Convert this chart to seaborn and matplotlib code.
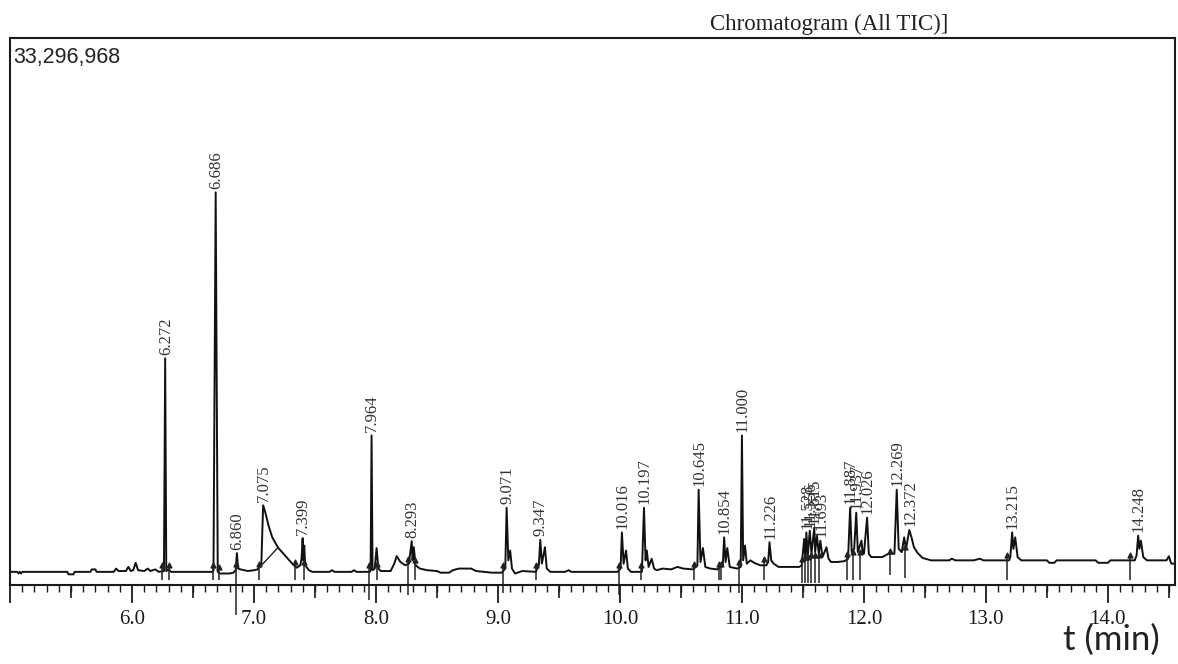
import matplotlib
matplotlib.use("Agg")
import matplotlib.pyplot as plt
from matplotlib.ticker import MultipleLocator, FixedLocator, FixedFormatter
import seaborn as sns

# ---------------- data (time in min, intensity in millions of counts) ----------------
trace_t = [5.00, 5.06, 5.07, 5.08, 5.09, 5.10, 5.47, 5.48, 5.52, 5.53, 5.66, 5.67, 5.70, 5.71,
           5.85, 5.87, 5.89, 5.95, 5.97, 5.99, 6.01, 6.03, 6.05, 6.10, 6.13, 6.15, 6.19, 6.22,
           6.262, 6.272, 6.281, 6.30, 6.32,
           6.66, 6.668, 6.686, 6.703, 6.72, 6.80, 6.83, 6.85, 6.860, 6.87, 6.89, 6.95, 7.00, 7.03,
           7.06, 7.075, 7.09, 7.12, 7.15, 7.18, 7.20, 7.23, 7.26, 7.29, 7.32, 7.35, 7.38, 7.390,
           7.399, 7.405, 7.412, 7.42, 7.45, 7.48, 7.62, 7.64, 7.66, 7.80, 7.82, 7.84,
           7.95, 7.956, 7.964, 7.972, 7.99, 8.005, 8.02, 8.04, 8.12, 8.15, 8.17, 8.20, 8.24, 8.27,
           8.293, 8.30, 8.31, 8.325, 8.36, 8.42, 8.50, 8.53, 8.60, 8.63, 8.68, 8.78, 8.82, 8.95,
           9.03, 9.06, 9.071, 9.085, 9.10, 9.115, 9.14, 9.20, 9.31, 9.335, 9.347, 9.36, 9.385,
           9.40, 9.43, 9.55, 9.58, 9.60, 9.98, 10.005, 10.016, 10.03, 10.05, 10.065, 10.09,
           10.18, 10.197, 10.21, 10.22, 10.235, 10.26, 10.28, 10.30, 10.35, 10.42, 10.47, 10.52,
           10.60, 10.635, 10.645, 10.66, 10.68, 10.70, 10.74, 10.80, 10.843, 10.854, 10.866,
           10.88, 10.90, 10.96, 10.99, 11.000, 11.01, 11.025, 11.04, 11.07, 11.10, 11.15, 11.20,
           11.215, 11.226, 11.24, 11.26, 11.30, 11.40, 11.47,
           11.49, 11.51, 11.52, 11.528, 11.54, 11.556, 11.57, 11.593, 11.60, 11.615, 11.63,
           11.643, 11.66, 11.693, 11.71, 11.73, 11.78, 11.84, 11.87, 11.887, 11.90, 11.92,
           11.937, 11.95, 11.98, 11.99, 12.00, 12.026, 12.04, 12.06, 12.10, 12.15, 12.20, 12.25,
           12.269, 12.285, 12.31, 12.33, 12.345, 12.372, 12.39, 12.41, 12.44, 12.48, 12.55,
           12.70, 12.72, 12.75, 12.90, 12.95, 12.98, 13.19, 13.20, 13.215, 13.225, 13.24, 13.26,
           13.29, 13.50, 13.52, 13.56, 13.58, 13.90, 13.92, 14.00, 14.02, 14.22, 14.235, 14.248,
           14.258, 14.27, 14.29, 14.32, 14.48, 14.50, 14.51, 14.52, 14.55]
trace_i = [0.80, 0.80, 0.70, 0.80, 0.70, 0.80, 0.80, 0.65, 0.65, 0.80, 0.80, 0.95, 0.95, 0.80,
           0.80, 1.00, 0.85, 0.85, 1.10, 0.85, 0.90, 1.35, 0.90, 0.85, 1.00, 0.85, 0.95, 0.80,
           0.85, 13.80, 0.85, 0.95, 0.80,
           0.80, 0.90, 23.90, 0.80, 0.70, 0.70, 0.75, 0.90, 1.94, 1.00, 0.95, 0.85, 0.90, 0.95,
           1.20, 4.85, 4.50, 3.60, 2.90, 2.50, 2.25, 2.00, 1.75, 1.50, 1.25, 1.05, 1.20, 1.60,
           2.85, 1.50, 2.40, 1.20, 0.90, 0.80, 0.80, 0.90, 0.80, 0.80, 0.90, 0.80,
           0.80, 0.90, 9.10, 0.90, 1.00, 2.25, 1.00, 0.85, 0.85, 1.30, 1.76, 1.40, 1.20, 1.30,
           2.67, 1.50, 2.30, 1.20, 1.00, 0.90, 0.85, 0.75, 0.75, 0.90, 1.00, 1.00, 0.85, 0.75,
           0.75, 1.00, 4.70, 1.50, 2.10, 1.00, 0.70, 0.85, 0.80, 1.20, 2.75, 1.30, 2.30,
           1.00, 0.80, 0.80, 0.90, 0.80, 0.80, 1.00, 3.20, 1.30, 2.10, 1.00, 0.80,
           0.80, 4.70, 1.50, 2.10, 1.10, 1.60, 1.00, 0.90, 1.00, 0.95, 1.10, 1.00,
           0.95, 1.20, 5.80, 1.40, 2.25, 1.10, 1.00, 0.95, 1.20, 2.90, 1.40,
           2.25, 1.10, 1.00, 1.10, 9.10, 1.50, 2.40, 1.30, 1.50, 1.35, 1.20, 1.20,
           1.40, 2.60, 1.50, 1.30, 1.10, 1.10, 1.10,
           1.20, 2.80, 1.50, 3.20, 1.80, 3.30, 1.90, 3.50, 2.00, 3.00, 1.90,
           2.70, 1.70, 2.30, 1.60, 1.40, 1.40, 1.45, 1.60, 4.70, 2.00, 2.20,
           4.40, 2.00, 2.70, 1.90, 1.90, 4.10, 1.90, 1.70, 1.70, 1.70, 1.90, 1.90,
           5.80, 2.20, 2.00, 2.90, 2.20, 3.35, 2.90, 2.30, 1.95, 1.65, 1.50,
           1.50, 1.60, 1.50, 1.50, 1.60, 1.50, 1.50, 1.70, 3.20, 2.20, 2.90, 1.70,
           1.50, 1.50, 1.35, 1.35, 1.50, 1.50, 1.35, 1.35, 1.50, 1.50, 1.80, 3.00,
           2.20, 2.70, 1.70, 1.50, 1.50, 1.75, 1.50, 1.30, 1.30]

peak_t = [6.272, 6.686, 6.860, 7.075, 7.399, 7.964, 8.293, 9.071, 9.347, 10.016, 10.197,
          10.645, 10.854, 11.000, 11.226, 11.528, 11.556, 11.593, 11.643, 11.887, 11.937,
          12.026, 12.269, 12.372, 13.215, 14.248]
peak_lbl = ["6.272", "6.686", "6.860", "7.075", "7.399", "7.964", "8.293", "9.071", "9.347",
            "10.016", "10.197", "10.645", "10.854", "11.000", "11.226", "11.528", "11.556",
            "11.615", "11.693", "11.887", "11.937", "12.026", "12.269", "12.372", "13.215",
            "14.248"]

# integration markers (time, top, bottom)
mark_t = [6.25, 6.30, 6.66, 6.71, 6.855, 7.04, 7.34, 7.41, 7.94, 8.01, 8.26, 8.32, 9.04,
          9.31, 9.99, 10.17, 10.61, 10.81, 10.83, 10.975, 11.18, 11.49, 11.515, 11.54, 11.57,
          11.60, 11.635, 11.86, 11.91, 11.965, 12.215, 12.34, 13.175, 14.185]
mark_top = [1.2, 1.2, 1.2, 1.1, 1.3, 1.3, 1.4, 1.4, 1.2, 1.3, 1.6, 1.5, 1.2, 1.2, 1.2, 1.2,
            1.3, 1.3, 1.3, 1.4, 1.6, 1.6, 1.7, 1.7, 1.8, 1.8, 1.8, 1.9, 2.0, 2.0, 2.1, 2.3,
            1.8, 1.8]
mark_bot = [0.3, 0.3, 0.3, 0.3, -1.8, 0.3, 0.3, 0.3, -0.9, 0.3, -0.6, 0.3, -0.5, 0.3, -0.6,
            0.3, 0.3, 0.3, 0.3, -0.5, 0.3, 0.1, 0.1, 0.1, 0.1, 0.1, 0.1, 0.3, 0.3, 0.3, 0.6,
            0.4, 0.3, 0.3]
skim_t = [7.03, 7.20]
skim_i = [0.95, 2.30]

tick_major = [5.0, 6.0, 7.0, 8.0, 9.0, 10.0, 11.0, 12.0, 13.0, 14.0]
tick_major_lbl = ["", "6.0", "7.0", "8.0", "9.0", "10.0", "11.0", "12.0", "13.0", "14.0"]
tick_half = [5.5, 6.5, 7.5, 8.5, 9.5, 10.5, 11.5, 12.5, 13.5, 14.5]
y_max = 33.296968
x_min, x_max = 5.0, 14.55

# ---------------- plot ----------------
sns.set_theme(style="white")
plt.rcParams["font.family"] = ["Liberation Serif", "DejaVu Serif"]

fig = plt.figure(figsize=(11.78, 6.64), dpi=100)
ax = fig.add_axes([10 / 1178, 79 / 664, 1165 / 1178, 547 / 664])

sns.lineplot(x=trace_t, y=trace_i, ax=ax, color="#111111", linewidth=1.4,
             estimator=None, sort=False)
ax.plot(skim_t, skim_i, color="#222222", lw=1.0)
ax.vlines(mark_t, mark_bot, mark_top, color="#222222", lw=1.1, clip_on=False)
ax.scatter(mark_t, mark_top, marker="^", s=12, color="#222222", zorder=3)

lookup = dict(zip(trace_t, trace_i))
for t, lbl in zip(peak_t, peak_lbl):
    ax.annotate(lbl, xy=(t, lookup[t]), xytext=(0.5, 2.5), textcoords="offset points",
                rotation=90, ha="center", va="bottom", fontsize=12, color="#333333",
                family=["Liberation Serif"])

ax.set_xlim(x_min, x_max)
ax.set_ylim(0, y_max)
ax.set_yticks([])
ax.set_xlabel("")
ax.set_ylabel("")
for s in ax.spines.values():
    s.set_visible(True)
    s.set_color("#1a1a1a")
    s.set_linewidth(1.5)

ax.xaxis.set_major_locator(FixedLocator(tick_major))
ax.xaxis.set_major_formatter(FixedFormatter(tick_major_lbl))
ax.xaxis.set_minor_locator(MultipleLocator(0.1))
ax.tick_params(axis="x", which="major", bottom=True, direction="out", length=13, width=1.3,
               pad=5, labelsize=15, colors="#1a1a1a")
ax.tick_params(axis="x", which="minor", bottom=True, direction="out", length=5, width=1.0,
               colors="#1a1a1a")
sec = ax.secondary_xaxis("bottom")
sec.set_xticks(tick_half)
sec.tick_params(axis="x", direction="out", length=9, width=1.2, labelbottom=False,
                colors="#1a1a1a")
sec.spines["bottom"].set_visible(False)

ax.text(3 / 1165, 1 - 9 / 547, "33,296,968", transform=ax.transAxes, ha="left", va="top",
        fontsize=15.5, color="#222222", family=["Liberation Sans"])
fig.text(710 / 1178, 1 - 30 / 664, "Chromatogram (All TIC)]", ha="left", va="baseline",
         fontsize=16.5, color="#222222", family=["Liberation Serif"])
fig.text(1160 / 1178, 1 - 650 / 664, "t (min)", ha="right", va="baseline",
         fontsize=25, color="#222222", family=["Lato", "DejaVu Sans"])

fig.savefig("out.png", dpi=100)
